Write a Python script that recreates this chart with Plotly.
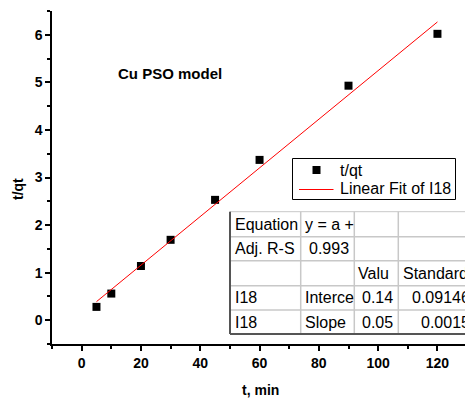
import plotly.graph_objects as go

# ---- data ----
t_min = [5, 10, 20, 30, 45, 60, 90, 120]
t_over_qt = [0.28, 0.56, 1.14, 1.69, 2.53, 3.37, 4.93, 6.02]
fit_x = [5, 120]
fit_y = [0.39, 6.27]
x_ticks = [0, 20, 40, 60, 80, 100, 120]
y_ticks = [0, 1, 2, 3, 4, 5, 6]
legend_labels = ["t/qt", "Linear Fit of I18"]

table_rows = [
    ["Equation", "y = a +", "", ""],
    ["Adj. R-S", "0.993", "", ""],
    ["", "", "Valu", "Standard"],
    ["I18", "Interce", "0.14", "0.09146"],
    ["I18", "Slope", "0.05", "0.0015"],
]

W, H = 465, 400
ML, MR, MT, MB = 52, 0, 11, 56
PW, PH = W - ML - MR, H - MT - MB


def px(x):
    return (x - ML) / PW


def py(y):
    return (H - MB - y) / PH


FONT = "Liberation Sans, Arial, sans-serif"

fig = go.Figure()
fig.add_trace(go.Scatter(x=t_min, y=t_over_qt, mode="markers", name=legend_labels[0],
                         showlegend=False,
                         marker=dict(symbol="square", size=8, color="black")))
fig.add_trace(go.Scatter(x=fit_x, y=fit_y, mode="lines", name=legend_labels[1],
                         showlegend=False,
                         line=dict(color="red", width=1)))

shapes = []
annotations = []

# ---- legend box (drawn manually) ----
shapes.append(dict(type="rect", xref="paper", yref="paper",
                   x0=px(292.5), x1=px(455.5), y0=py(199.5), y1=py(158.5),
                   fillcolor="white", line=dict(color="black", width=1), layer="above"))
shapes.append(dict(type="rect", xref="paper", yref="paper",
                   x0=px(312.5), x1=px(320.5), y0=py(174), y1=py(166),
                   fillcolor="black", line=dict(width=0), layer="above"))
shapes.append(dict(type="line", xref="paper", yref="paper",
                   x0=px(299), x1=px(333.5), y0=py(189.5), y1=py(189.5),
                   line=dict(color="red", width=1), layer="above"))
for lbl, yc in zip(legend_labels, [170, 189]):
    annotations.append(dict(text=lbl, x=px(338), y=py(yc), xref="paper", yref="paper",
                            xanchor="left", yanchor="middle", showarrow=False,
                            font=dict(family=FONT, size=16, color="black")))

# ---- table ----
row_edges = [211.7, 236.7, 260.7, 285.7, 310, 334]
col_edges = [230, 300.7, 354.3, 398.3, 480]

shapes.append(dict(type="rect", xref="paper", yref="paper",
                   x0=px(col_edges[0]), x1=px(col_edges[-1]),
                   y0=py(row_edges[-1]), y1=py(row_edges[0]),
                   fillcolor="white", line=dict(color="#c8c8c8", width=1), layer="above"))
for r in row_edges[1:-1]:
    shapes.append(dict(type="line", xref="paper", yref="paper",
                       x0=px(col_edges[0]), x1=px(col_edges[-1]), y0=py(r), y1=py(r),
                       line=dict(color="#c8c8c8", width=1.5)))
for c in col_edges[1:-1]:
    shapes.append(dict(type="line", xref="paper", yref="paper",
                       x0=px(c), x1=px(c), y0=py(row_edges[0]), y1=py(row_edges[-1]),
                       line=dict(color="#c8c8c8", width=1.5)))
shapes.append(dict(type="line", xref="paper", yref="paper",
                   x0=px(col_edges[0]), x1=px(col_edges[0]),
                   y0=py(row_edges[0]), y1=py(row_edges[-1]),
                   line=dict(color="#555555", width=2)))
shapes.append(dict(type="line", xref="paper", yref="paper",
                   x0=px(col_edges[0]), x1=px(col_edges[-1]),
                   y0=py(row_edges[-1]), y1=py(row_edges[-1]),
                   line=dict(color="#555555", width=2)))

col_text_pos = {
    0: (233, "left"),
    1: (303, "left"),
}
special = {
    (1, 1): (351, "right"),
    (2, 2): (356, "left"),
    (2, 3): (401, "left"),
    (3, 2): (395, "right"),
    (4, 2): (395, "right"),
    (3, 3): (410, "left"),
    (4, 3): (419, "left"),
}
for ri, row in enumerate(table_rows):
    yc = (row_edges[ri] + row_edges[ri + 1]) / 2
    for ci, txt in enumerate(row):
        if not txt:
            continue
        xpos, anc = special.get((ri, ci), col_text_pos.get(ci, (0, "left")))
        annotations.append(dict(text=txt, x=px(xpos), y=py(yc), xref="paper", yref="paper",
                                xanchor=anc, yanchor="middle", showarrow=False,
                                font=dict(family=FONT, size=16, color="black")))

annotations.append(dict(text="<b>Cu PSO model</b>", x=px(170), y=py(73), xref="paper", yref="paper",
                        xanchor="center", yanchor="middle", showarrow=False,
                        font=dict(family=FONT, size=15, color="black")))
annotations.append(dict(text="<b>t, min</b>", x=px(260), y=py(390), xref="paper", yref="paper",
                        xanchor="center", yanchor="middle", showarrow=False,
                        font=dict(family=FONT, size=14, color="black")))
annotations.append(dict(text="<b>t/qt</b>", x=px(18), y=py(189), xref="paper", yref="paper",
                        xanchor="center", yanchor="middle", showarrow=False, textangle=-90,
                        font=dict(family=FONT, size=14, color="black")))

fig.update_layout(
    width=W, height=H,
    margin=dict(l=ML, r=MR, t=MT, b=MB, pad=0),
    paper_bgcolor="white", plot_bgcolor="white",
    font=dict(family=FONT, color="black"),
    shapes=shapes, annotations=annotations,
    showlegend=False,
    xaxis=dict(range=[-10, -10 + PW / 2.965], tickvals=x_ticks, ticks="outside", ticklen=5,
               tickwidth=1.5, tickcolor="black", showline=True, linecolor="black", linewidth=1.5,
               showgrid=False, zeroline=False,
               tickfont=dict(family=FONT, size=14, color="black", weight="bold"),
               minor=dict(dtick=10, tick0=0, ticks="outside", ticklen=3, tickcolor="black", tickwidth=1.5)),
    yaxis=dict(range=[-0.5, 6.5], tickvals=y_ticks, ticks="outside", ticklen=5,
               tickwidth=1.5, tickcolor="black", showline=True, linecolor="black", linewidth=1.5,
               showgrid=False, zeroline=False,
               tickfont=dict(family=FONT, size=14, color="black", weight="bold"),
               minor=dict(dtick=0.5, tick0=0, ticks="outside", ticklen=3, tickcolor="black", tickwidth=1.5)),
)

fig.write_html("out.html")
